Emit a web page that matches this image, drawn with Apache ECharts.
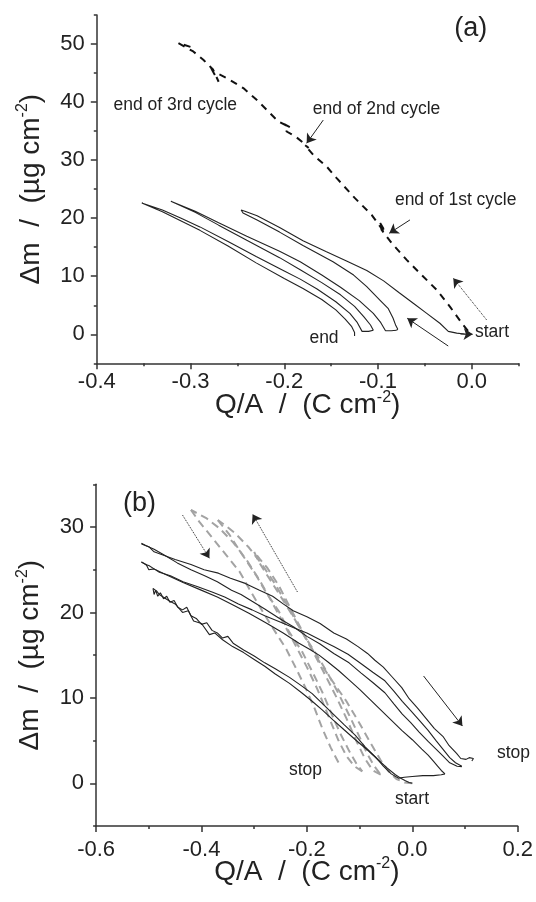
<!DOCTYPE html>
<html>
<head>
<meta charset="utf-8">
<script src="https://cdn.jsdelivr.net/npm/echarts/dist/echarts.min.js"></script>
<style>
html,body{margin:0;padding:0;background:#fff;}
#c{width:536px;height:902px;}
</style>
</head>
<body>
<div id="c"></div>
<script>
// ---------- Panel (a) data ----------
const aXTicks = [-0.4, -0.3, -0.2, -0.1, 0.0];
const aXMinor = [-0.35, -0.25, -0.15, -0.05, 0.05];
const aYTicks = [0, 10, 20, 30, 40, 50];
const aYMinor = [-5, 5, 15, 25, 35, 45, 55];

// cycle 1 (start -> tip -> bottom)
const aLoop1 = [[0.0,0.0],[-0.008,0.05],[-0.016,0.2],[-0.025,0.5],[-0.034,1.9],[-0.048,3.6],[-0.062,5.3],[-0.077,7.1],[-0.094,9.2],[-0.112,11.0],[-0.133,12.6],[-0.155,14.2],[-0.18,16.1],[-0.205,18.4],[-0.229,20.4],[-0.242,21.2],[-0.246,21.4],[-0.244,20.9],[-0.229,19.7],[-0.205,17.6],[-0.18,15.3],[-0.148,12.5],[-0.126,10.2],[-0.112,8.2],[-0.098,5.9],[-0.089,4.4],[-0.084,2.8],[-0.081,1.5],[-0.079,0.9],[-0.080,0.7]];
// cycle 2
const aLoop2 = [[-0.080,0.7],[-0.086,0.6],[-0.092,0.6],[-0.097,2.0],[-0.105,3.6],[-0.12,5.8],[-0.14,8.1],[-0.16,10.2],[-0.183,12.5],[-0.205,14.3],[-0.24,16.9],[-0.27,19.2],[-0.295,21.2],[-0.321,22.9],[-0.295,21.0],[-0.27,18.8],[-0.24,16.2],[-0.205,13.2],[-0.183,11.1],[-0.16,8.9],[-0.14,6.8],[-0.125,4.8],[-0.115,3.0],[-0.108,1.6],[-0.105,0.7]];
// cycle 3
const aLoop3 = [[-0.105,0.7],[-0.110,0.5],[-0.117,0.5],[-0.122,2.0],[-0.13,3.6],[-0.145,5.6],[-0.165,7.8],[-0.183,9.5],[-0.20,10.9],[-0.23,13.4],[-0.26,16.0],[-0.29,18.5],[-0.31,20.0],[-0.33,21.4],[-0.352,22.6],[-0.33,21.1],[-0.31,19.5],[-0.29,17.9],[-0.26,15.2],[-0.23,12.3],[-0.20,9.6],[-0.18,7.9],[-0.16,6.0],[-0.145,4.2],[-0.135,2.6],[-0.128,1.3],[-0.125,0.3],[-0.125,-0.3]];
// dashed curve
const aDashed = [[-0.004,0.6],[-0.0091,1.6],[-0.0233,4.76],[-0.0374,7.64],[-0.0553,10.52],[-0.0694,12.81],[-0.0854,15.69],[-0.0961,17.98],[-0.0985,19.4],[-0.092,17.6],[-0.0961,18.2],[-0.1068,20.57],[-0.1246,23.45],[-0.1441,26.9],[-0.1548,28.9],[-0.1691,30.9],[-0.178,32.6],[-0.174,32.1],[-0.180,33.0],[-0.1875,34.0],[-0.1975,34.93],[-0.200,36.2],[-0.193,35.6],[-0.2064,36.66],[-0.2188,38.67],[-0.2295,40.4],[-0.2437,42.41],[-0.2614,44.14],[-0.2757,45.28],[-0.280,46.4],[-0.270,43.5],[-0.276,45.6],[-0.2864,47.29],[-0.2971,48.72],[-0.3131,50.17],[-0.300,49.5],[-0.295,48.9]];

const aArrow2nd = [[-0.1584,36.9],[-0.1761,32.9]];
const aArrow1st = [[-0.0659,19.7],[-0.088,17.4]];
const aArrowSolid = [[-0.0251,-2.02],[-0.0688,2.76]];
const aArrowDotted = [[0.0159,2.47],[-0.0197,9.66]];
const aArrowStart = [[-0.012,0.05],[0.001,0.0]];

// ---------- Panel (b) data ----------
const bXTicks = [-0.6, -0.4, -0.2, 0.0, 0.2];
const bXMinor = [-0.5, -0.3, -0.1, 0.1];
const bYTicks = [0, 10, 20, 30];
const bYMinor = [-5, 5, 15, 25, 35];

const bOx1 = [[0.0,0.0],[-0.006,0.1],[-0.013,0.3],[-0.022,0.6],[-0.032,1.0],[-0.048,1.8],[-0.064,2.7],[-0.085,3.9],[-0.108,5.1],[-0.13,6.3],[-0.15,7.4],[-0.171,8.6],[-0.19,9.6],[-0.21,10.6],[-0.233,11.7],[-0.26,12.8],[-0.28,13.7],[-0.30,14.5],[-0.32,15.3],[-0.341,16.0],[-0.36,16.8],[-0.375,17.6],[-0.385,17.4],[-0.40,18.7],[-0.415,19.0],[-0.425,20.2],[-0.436,20.0],[-0.45,21.0],[-0.46,21.3],[-0.47,21.7],[-0.48,22.1],[-0.485,22.5],[-0.492,22.8]];
const bRed1 = [[-0.492,22.8],[-0.49,22.1],[-0.487,22.6],[-0.483,21.9],[-0.478,22.3],[-0.472,21.6],[-0.466,21.9],[-0.46,21.2],[-0.452,21.4],[-0.445,20.6],[-0.436,20.3],[-0.428,20.6],[-0.42,19.6],[-0.41,19.3],[-0.40,18.6],[-0.39,18.8],[-0.38,17.9],[-0.37,17.6],[-0.36,17.0],[-0.35,17.2],[-0.34,16.4],[-0.32,15.6],[-0.30,14.9],[-0.28,14.1],[-0.26,13.4],[-0.233,12.4],[-0.21,11.4],[-0.19,10.5],[-0.17,9.3],[-0.15,8.1],[-0.13,6.9],[-0.108,5.6],[-0.09,4.3],[-0.07,3.1],[-0.055,2.0],[-0.04,1.1],[-0.026,0.6],[-0.015,0.7],[0.0,0.8],[0.02,0.9],[0.04,0.9],[0.055,1.0],[0.062,1.1]];
const bOx2 = [[0.062,1.1],[0.055,1.5],[0.048,2.0],[0.04,2.6],[0.03,3.3],[0.018,4.0],[0.0,5.1],[-0.02,6.2],[-0.04,7.4],[-0.06,8.6],[-0.08,9.8],[-0.1,11.0],[-0.12,12.1],[-0.14,13.2],[-0.16,14.2],[-0.177,15.0],[-0.195,15.7],[-0.215,16.4],[-0.245,17.6],[-0.278,18.8],[-0.31,19.9],[-0.341,20.9],[-0.37,21.8],[-0.404,22.7],[-0.435,23.5],[-0.467,24.4],[-0.49,25.1],[-0.50,25.5],[-0.506,25.6],[-0.514,25.9]];
const bRed2 = [[-0.514,25.9],[-0.505,25.6],[-0.50,25.0],[-0.49,25.1],[-0.48,24.7],[-0.459,24.3],[-0.435,23.6],[-0.407,23.0],[-0.38,22.4],[-0.356,21.8],[-0.33,21.0],[-0.304,20.3],[-0.28,19.6],[-0.252,18.9],[-0.225,18.2],[-0.2,17.6],[-0.175,16.8],[-0.149,16.0],[-0.122,15.1],[-0.097,14.0],[-0.075,13.0],[-0.052,12.0],[-0.035,10.8],[-0.019,9.6],[-0.003,8.5],[0.013,7.4],[0.03,6.2],[0.045,5.0],[0.058,4.0],[0.071,3.0],[0.082,2.4],[0.094,2.0]];
const bOx3 = [[0.094,1.95],[0.085,2.0],[0.071,2.4],[0.058,3.2],[0.045,4.0],[0.03,4.9],[0.013,6.0],[-0.003,7.1],[-0.019,8.1],[-0.035,9.3],[-0.052,10.6],[-0.075,11.8],[-0.097,12.9],[-0.12,14.1],[-0.149,15.2],[-0.175,16.3],[-0.2,17.2],[-0.225,18.3],[-0.252,19.3],[-0.28,20.4],[-0.304,21.3],[-0.325,22.1],[-0.343,22.6],[-0.37,23.6],[-0.394,24.3],[-0.42,25.0],[-0.446,25.8],[-0.47,26.7],[-0.49,27.4],[-0.505,27.8],[-0.514,28.1]];
const bRed3 = [[-0.514,28.0],[-0.50,27.7],[-0.49,27.1],[-0.472,26.7],[-0.45,26.2],[-0.42,25.6],[-0.395,25.0],[-0.368,24.6],[-0.345,24.0],[-0.317,23.4],[-0.29,22.6],[-0.265,21.9],[-0.245,21.0],[-0.226,20.2],[-0.2,19.5],[-0.175,18.7],[-0.149,17.6],[-0.125,16.9],[-0.103,16.0],[-0.085,15.2],[-0.071,14.4],[-0.055,13.6],[-0.039,12.5],[-0.02,11.2],[-0.006,9.9],[0.01,8.8],[0.026,7.6],[0.042,6.4],[0.058,5.5],[0.07,4.4],[0.084,3.5],[0.092,2.9],[0.102,2.8],[0.108,3.0],[0.116,2.9],[0.113,2.6]];

const gOx1 = [[0,0],[-0.015,0.1],[-0.03,0.5],[-0.045,1.4],[-0.06,2.7],[-0.08,4.8],[-0.1,7.0],[-0.125,9.6],[-0.152,12.0],[-0.177,14.3],[-0.202,17.0],[-0.228,20.1],[-0.253,23.1],[-0.275,25.2],[-0.29,26.3],[-0.3,27.1]];
const gRed1 = [[-0.3,27.1],[-0.292,26.0],[-0.278,24.6],[-0.253,22.2],[-0.228,19.7],[-0.202,17.0],[-0.177,14.6],[-0.158,12.6],[-0.14,10.5],[-0.12,8.0],[-0.1,5.4],[-0.085,3.4],[-0.072,2.0],[-0.06,1.0]];
const gOx2 = [[-0.06,1.0],[-0.075,1.5],[-0.09,2.9],[-0.105,4.8],[-0.125,7.6],[-0.145,10.2],[-0.168,13.0],[-0.19,15.6],[-0.212,18.0],[-0.235,20.6],[-0.26,23.3],[-0.285,25.6],[-0.31,27.6],[-0.335,29.2],[-0.355,30.2],[-0.369,30.8]];
const gRed2 = [[-0.369,30.8],[-0.347,29.1],[-0.322,26.7],[-0.297,24.4],[-0.278,22.4],[-0.253,20.1],[-0.234,17.75],[-0.209,15.4],[-0.19,13.1],[-0.171,10.7],[-0.155,8.4],[-0.138,6.0],[-0.12,3.8],[-0.105,2.2],[-0.095,1.4]];
const gOx3 = [[-0.095,1.4],[-0.11,2.0],[-0.125,3.2],[-0.14,5.0],[-0.16,8.0],[-0.18,11.0],[-0.2,13.6],[-0.222,16.2],[-0.245,18.8],[-0.268,21.4],[-0.29,23.8],[-0.315,26.2],[-0.34,28.2],[-0.365,29.8],[-0.39,31.0],[-0.42,32.0]];
const gRed3 = [[-0.42,32.0],[-0.404,30.6],[-0.379,28.7],[-0.353,26.7],[-0.328,24.8],[-0.306,22.4],[-0.284,20.1],[-0.265,18.2],[-0.24,15.8],[-0.221,13.5],[-0.202,11.1],[-0.185,8.7],[-0.17,6.3],[-0.155,4.2],[-0.139,2.3]];

const bArrowDottedDown = [[-0.436,31.4],[-0.385,26.35]];
const bArrowDottedUp = [[-0.218,22.4],[-0.303,31.5]];
const bArrowSolid = [[0.0214,12.56],[0.0951,6.7]];

// ---------- styling ----------
const FONT = "'Liberation Sans', Arial, Helvetica, sans-serif";
const INK = '#222';
const AXC = '#333';

function nameRich() {
  return {
    t: {fontSize: 28, fontFamily: FONT, color: INK, lineHeight: 32},
    s: {fontSize: 16, fontFamily: FONT, color: INK, verticalAlign: 'top', lineHeight: 16}
  };
}
function mainAxis(grid, min, max, ticks, dec, name, nameGap, labelMargin, isX) {
  return {
    type: 'value', gridIndex: grid, min: min, max: max,
    position: isX ? 'bottom' : 'left',
    name: name, nameLocation: 'middle', nameGap: nameGap, nameMoveOverlap: false,
    nameTextStyle: {rich: nameRich()},
    axisLine: {show: true, onZero: false, lineStyle: {color: AXC, width: 1.5}},
    axisTick: {show: true, inside: false, length: 6, customValues: ticks, lineStyle: {color: AXC, width: 1.5}},
    axisLabel: {show: true, customValues: ticks, margin: labelMargin, fontSize: 22, fontFamily: FONT, color: INK,
      formatter: v => Number(v).toFixed(dec)},
    splitLine: {show: false}, minorTick: {show: false}
  };
}
function minorAxis(grid, min, max, ticks, isX) {
  return {
    type: 'value', gridIndex: grid, min: min, max: max,
    position: isX ? 'bottom' : 'left', offset: 0,
    axisLine: {show: false, onZero: false},
    axisTick: {show: true, inside: false, length: 3, customValues: ticks, lineStyle: {color: AXC, width: 1.5}},
    axisLabel: {show: false}, splitLine: {show: false}
  };
}
function line(data, xi, yi, color, width, type, z) {
  return {type: 'line', xAxisIndex: xi, yAxisIndex: yi, data: data, showSymbol: false, symbol: 'none',
    smooth: false, silent: true, animation: false, z: z || 2,
    lineStyle: {color: color, width: width, type: type || 'solid'}};
}
function arrowLines(pairsList) {
  return {
    silent: true, animation: false, symbol: ['none', 'arrow'], symbolSize: 9,
    label: {show: false}, emphasis: {disabled: true},
    data: pairsList.map(p => [
      {coord: p.pts[0], lineStyle: {color: INK, width: 1, type: p.type}},
      {coord: p.pts[1]}
    ])
  };
}
function txt(t, x, y, size, align) {
  return {type: 'text', x: x, y: y, z: 100, silent: true,
    style: {text: t, fontSize: size, fontFamily: FONT, fill: INK, align: align, verticalAlign: 'middle',
      textAlign: align, textVerticalAlign: 'middle'}};
}

const xName = '{t|Q/A  /  (C cm}{s|-2}{t|)}';
const yName = '{t|Δm  /  (µg cm}{s|-2}{t|)}';

const dashedA = line(aDashed, 0, 0, '#111', 2, [7, 6], 3);
dashedA.markLine = arrowLines([
  {pts: aArrow2nd, type: 'solid'},
  {pts: aArrow1st, type: 'solid'},
  {pts: aArrowSolid, type: 'solid'},
  {pts: aArrowDotted, type: 'dotted'},
  {pts: aArrowStart, type: 'solid'}
]);

const topB = line(bRed3, 2, 2, INK, 1.1, 'solid', 3);
topB.markLine = arrowLines([
  {pts: bArrowDottedDown, type: 'dotted'},
  {pts: bArrowDottedUp, type: 'dotted'},
  {pts: bArrowSolid, type: 'solid'}
]);

const GRAY = '#a3a3a3';
const option = {
  animation: false,
  backgroundColor: '#fff',
  grid: [
    {left: 96.8, top: 15, width: 421.8, height: 348.3},
    {left: 96.1, top: 484.3, width: 423.2, height: 341.7}
  ],
  xAxis: [
    mainAxis(0, -0.4, 0.05, aXTicks, 1, xName, 26, 8, true),
    minorAxis(0, -0.4, 0.05, aXMinor, true),
    mainAxis(1, -0.6, 0.2, bXTicks, 1, xName, 30, 13, true),
    minorAxis(1, -0.6, 0.2, bXMinor, true)
  ],
  yAxis: [
    mainAxis(0, -5, 55, aYTicks, 0, yName, 50, 12, false),
    minorAxis(0, -5, 55, aYMinor, false),
    mainAxis(1, -5, 35, bYTicks, 0, yName, 50, 12, false),
    minorAxis(1, -5, 35, bYMinor, false)
  ],
  series: [
    dashedA,
    line(aLoop1, 0, 0, INK, 1.1, 'solid'),
    line(aLoop2, 0, 0, INK, 1.1, 'solid'),
    line(aLoop3, 0, 0, INK, 1.1, 'solid'),
    line(gOx1, 2, 2, GRAY, 2, [8, 5], 1),
    line(gRed1, 2, 2, GRAY, 2, [8, 5], 1),
    line(gOx2, 2, 2, GRAY, 2, [8, 5], 1),
    line(gRed2, 2, 2, GRAY, 2, [8, 5], 1),
    line(gOx3, 2, 2, GRAY, 2, [8, 5], 1),
    line(gRed3, 2, 2, GRAY, 2, [8, 5], 1),
    line(bOx1, 2, 2, INK, 1.1, 'solid', 3),
    line(bRed1, 2, 2, INK, 1.1, 'solid', 3),
    line(bOx2, 2, 2, INK, 1.1, 'solid', 3),
    line(bRed2, 2, 2, INK, 1.1, 'solid', 3),
    line(bOx3, 2, 2, INK, 1.1, 'solid', 3),
    topB
  ],
  graphic: [
    txt('(a)', 470.8, 28.3, 27, 'center'),
    txt('end of 3rd cycle', 113.5, 105, 17.5, 'left'),
    txt('end of 2nd cycle', 312.8, 109.3, 17.5, 'left'),
    txt('end of 1st cycle', 394.9, 200, 17.5, 'left'),
    txt('start', 475, 332.3, 17.5, 'left'),
    txt('end', 309.4, 338.3, 17.5, 'left'),
    txt('(b)', 123, 503.3, 27, 'left'),
    txt('stop', 289, 770, 17.5, 'left'),
    txt('start', 395, 799.3, 17.5, 'left'),
    txt('stop', 497, 752.7, 17.5, 'left')
  ]
};
const chart = echarts.init(document.getElementById('c'), null, {renderer: 'canvas'});
chart.setOption(option);
</script>
</body>
</html>
